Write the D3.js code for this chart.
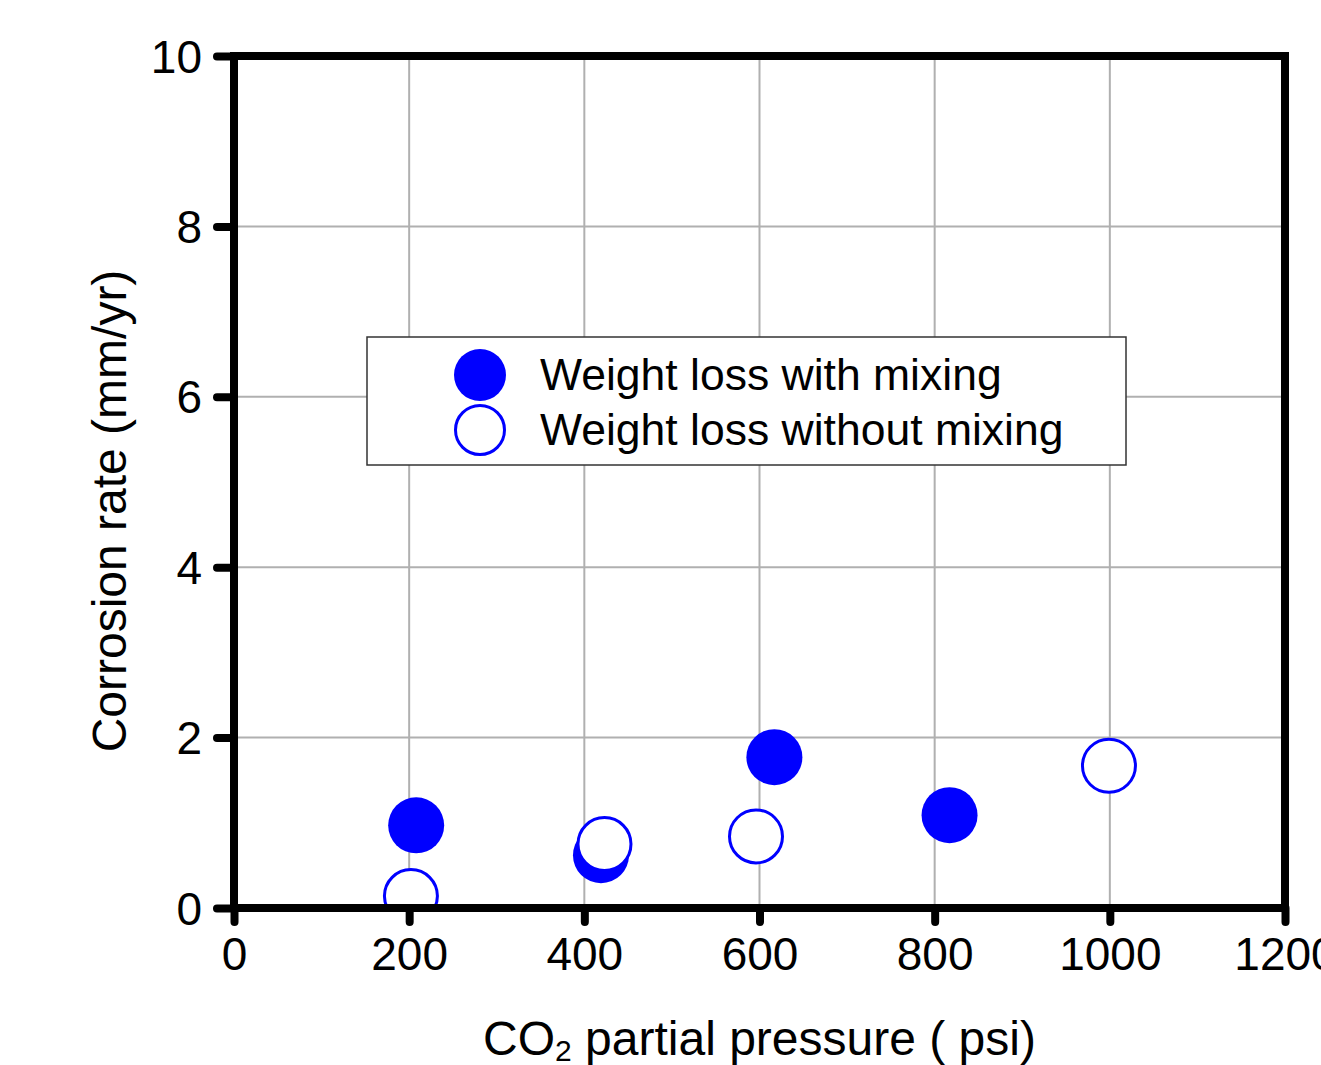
<!DOCTYPE html>
<html>
<head>
<meta charset="utf-8">
<script src="https://cdn.jsdelivr.net/npm/d3@7"></script>
<style>
  body { margin: 0; background: #fff; }
  text { font-family: "Liberation Sans", Arial, sans-serif; fill: #000; }
</style>
</head>
<body>
<div id="chart"></div>
<script>
// data
const xTicks = [0, 200, 400, 600, 800, 1000, 1200];
const yTicks = [0, 2, 4, 6, 8, 10];
const xGrid = [200, 400, 600, 800, 1000];
const yGrid = [2, 4, 6, 8];
const withMixingX = [208, 419, 617, 817];
const withMixingY = [0.97, 0.62, 1.77, 1.09];
const withoutMixingX = [202, 423, 596, 999];
const withoutMixingY = [0.14, 0.75, 0.84, 1.67];
const seriesNames = ["Weight loss with mixing", "Weight loss without mixing"];

var W = 1321, H = 1065;
var margin = { top: 56, right: 36, bottom: 157, left: 234 },
    width = W - margin.left - margin.right,
    height = H - margin.top - margin.bottom;

var svg = d3.select("#chart").append("svg")
    .attr("width", W)
    .attr("height", H);

var g = svg.append("g")
    .attr("transform", "translate(" + margin.left + "," + margin.top + ")");

var x = d3.scaleLinear().domain([0, 1200]).range([0, width]);
var y = d3.scaleLinear().domain([0, 10]).range([height, 0]);

// grid
g.selectAll(".vgrid").data(xGrid).enter().append("line")
    .attr("x1", d => x(d)).attr("x2", d => x(d))
    .attr("y1", 0).attr("y2", height)
    .attr("stroke", "#b0b0b0").attr("stroke-width", 2);
g.selectAll(".hgrid").data(yGrid).enter().append("line")
    .attr("y1", d => y(d)).attr("y2", d => y(d))
    .attr("x1", 0).attr("x2", width)
    .attr("stroke", "#b0b0b0").attr("stroke-width", 2);

// legend box sits over the grid
var leg = svg.append("g");
leg.append("rect")
    .attr("x", 367).attr("y", 337)
    .attr("width", 759).attr("height", 128)
    .attr("fill", "#fff").attr("stroke", "#333").attr("stroke-width", 1.5);

// points
g.append("clipPath").attr("id", "plotclip")
  .append("rect").attr("width", width).attr("height", height);

var pts = g.append("g").attr("clip-path", "url(#plotclip)");
var filled = withMixingX.map((v, i) => ({ x: v, y: withMixingY[i] }));
var open = withoutMixingX.map((v, i) => ({ x: v, y: withoutMixingY[i] }));

pts.selectAll(".filled").data(filled).enter().append("circle")
    .attr("cx", d => x(d.x)).attr("cy", d => y(d.y))
    .attr("r", 28).attr("fill", "#0000ff");
pts.selectAll(".open").data(open).enter().append("circle")
    .attr("cx", d => x(d.x)).attr("cy", d => y(d.y))
    .attr("r", 26.5).attr("fill", "#fff")
    .attr("stroke", "#0000ff").attr("stroke-width", 3);

// axes
var xAxis = g.append("g")
    .attr("transform", "translate(0," + height + ")")
    .call(d3.axisBottom(x).tickValues(xTicks).tickFormat(d3.format("d"))
        .tickSize(14).tickSizeOuter(0).tickPadding(15));
var yAxis = g.append("g")
    .call(d3.axisLeft(y).tickValues(yTicks).tickFormat(d3.format("d"))
        .tickSize(17).tickSizeOuter(0).tickPadding(15));

[xAxis, yAxis].forEach(function (a) {
    a.select(".domain").remove();
    a.selectAll(".tick line")
        .attr("stroke", "#000").attr("stroke-width", 8).attr("stroke-linecap", "round");
    a.selectAll(".tick text")
        .attr("fill", "#000")
        .style("font-size", "46px")
        .style("font-family", "'Liberation Sans', Arial, sans-serif");
});
yAxis.selectAll(".tick text").attr("dy", "0.35em");

// frame
g.append("rect")
    .attr("width", width).attr("height", height)
    .attr("fill", "none").attr("stroke", "#000").attr("stroke-width", 8);

// axis titles
var xt = svg.append("text")
    .attr("x", margin.left + width / 2).attr("y", 1055)
    .attr("text-anchor", "middle")
    .style("font-size", "48px");
xt.append("tspan").text("CO");
xt.append("tspan").attr("dy", 6).style("font-size", "30px").text("2");
xt.append("tspan").attr("dy", -6).text(" partial pressure ( psi)");

svg.append("text")
    .attr("transform", "translate(126,511) rotate(-90)")
    .attr("text-anchor", "middle")
    .style("font-size", "48px")
    .text("Corrosion rate (mm/yr)");

// legend entries
leg.append("circle").attr("cx", 480).attr("cy", 375).attr("r", 26).attr("fill", "#0000ff");
leg.append("circle").attr("cx", 480).attr("cy", 430).attr("r", 24.5)
    .attr("fill", "#fff").attr("stroke", "#0000ff").attr("stroke-width", 3);
leg.selectAll(".lt").data(seriesNames).enter().append("text")
    .attr("x", 540).attr("y", (d, i) => 390 + i * 55)
    .style("font-size", "44.5px")
    .text(d => d);
</script>
</body>
</html>
